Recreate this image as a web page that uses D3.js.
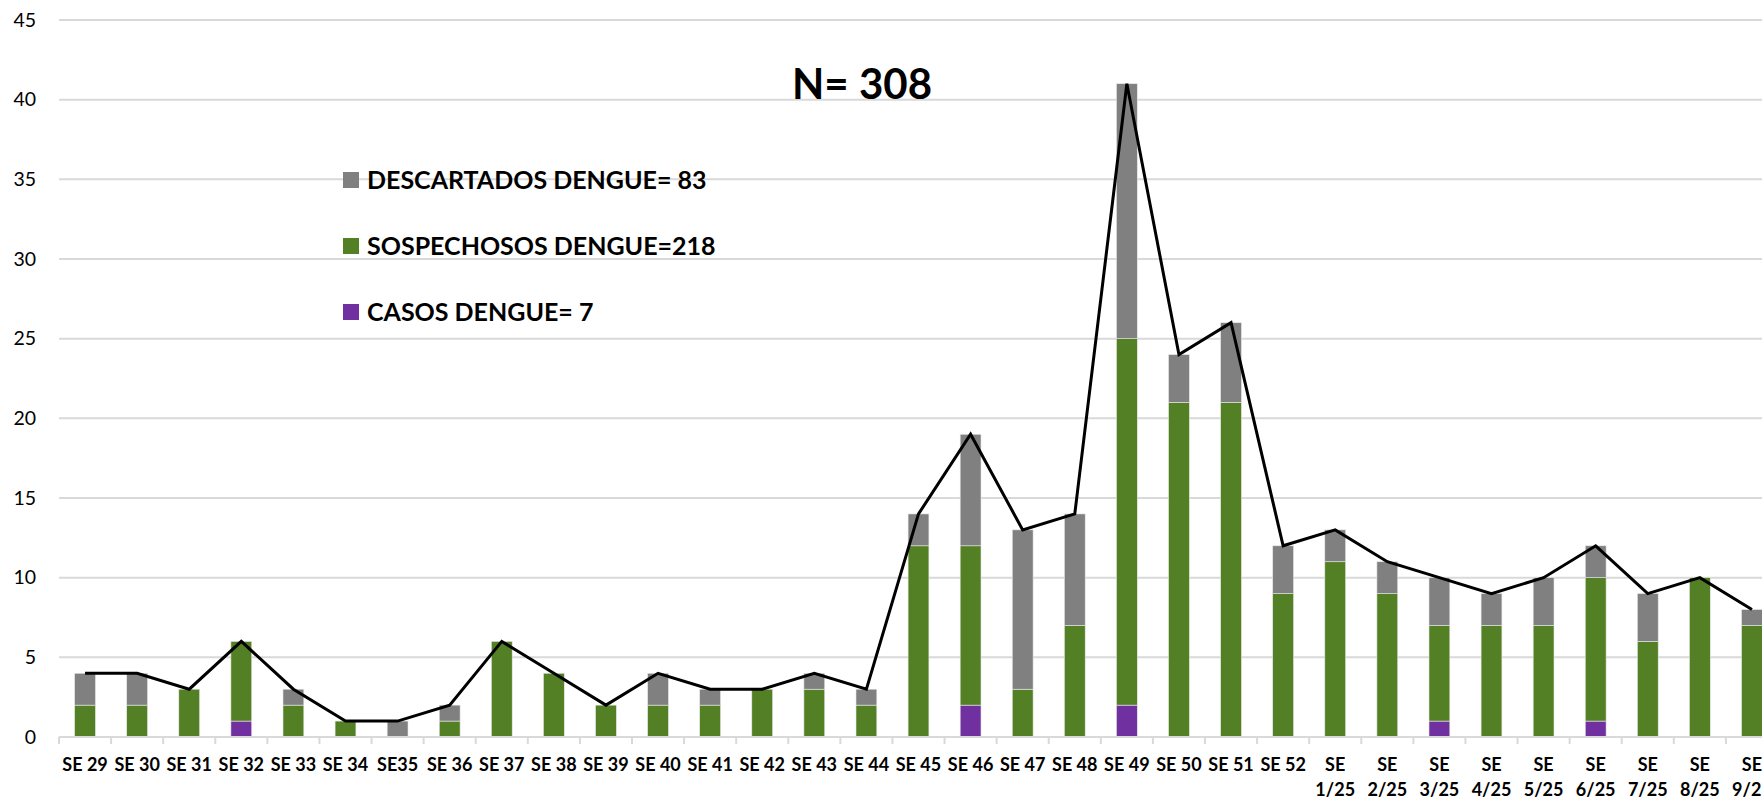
<!DOCTYPE html>
<html>
<head>
<meta charset="utf-8">
<script src="https://cdn.jsdelivr.net/npm/d3@7"></script>
<style>
body { margin: 0; background: #fff; }
text { font-family: Lato, "Liberation Sans", sans-serif; fill: #000; }
</style>
</head>
<body>
<svg id="chart" width="1762" height="800"></svg>
<script>
const semanas = ["SE 29","SE 30","SE 31","SE 32","SE 33","SE 34","SE35","SE 36","SE 37","SE 38","SE 39","SE 40","SE 41","SE 42","SE 43","SE 44","SE 45","SE 46","SE 47","SE 48","SE 49","SE 50","SE 51","SE 52","SE 1/25","SE 2/25","SE 3/25","SE 4/25","SE 5/25","SE 6/25","SE 7/25","SE 8/25","SE 9/25"];
const casos       = [0,0,0,1,0,0,0,0,0,0,0,0,0,0,0,0, 0, 2, 0,0, 2, 0, 0,0, 0,0,1,0,0,1,0, 0,0];
const sospechosos = [2,2,3,5,2,1,0,1,6,4,2,2,2,3,3,2,12,10, 3,7,23,21,21,9,11,9,6,7,7,9,6,10,7];
const descartados = [2,2,0,0,1,0,1,1,0,0,0,2,1,0,1,1, 2, 7,10,7,16, 3, 5,3, 2,2,3,2,3,2,3, 0,1];
const yTicks = [0,5,10,15,20,25,30,35,40,45];
const series = ["casos","sospechosos","descartados"];
const leyenda = [
  {key: "descartados", label: "DESCARTADOS DENGUE= 83"},
  {key: "sospechosos", label: "SOSPECHOSOS DENGUE=218"},
  {key: "casos", label: "CASOS DENGUE= 7"}
];
const colores = {casos: "#7030a0", sospechosos: "#538024", descartados: "#808080"};
const titulo = "N= 308";

const svg = d3.select("#chart");

const rows = semanas.map((s, i) => ({
  semana: s,
  casos: casos[i],
  sospechosos: sospechosos[i],
  descartados: descartados[i],
  total: casos[i] + sospechosos[i] + descartados[i]
}));

const left = 59, right = 1778;
const x = d3.scaleBand().domain(semanas).range([left, right]).paddingInner(0.6).paddingOuter(0.3);
const y = d3.scaleLinear().domain([0, 45]).range([737, 20]);

// grid
svg.append("g")
  .selectAll("line")
  .data(yTicks.filter(d => d > 0))
  .enter()
  .append("line")
  .attr("x1", left)
  .attr("x2", right)
  .attr("y1", d => y(d))
  .attr("y2", d => y(d))
  .attr("stroke", "#d9d9d9")
  .attr("stroke-width", 2);

// y labels
svg.append("g")
  .selectAll("text")
  .data(yTicks)
  .enter()
  .append("text")
  .attr("x", 36)
  .attr("y", d => y(d))
  .attr("dy", "0.35em")
  .attr("text-anchor", "end")
  .style("font-size", "19.5px")
  .text(d => d);

// stacked bars
const stacked = d3.stack().keys(series)(rows);
svg.append("g")
  .selectAll("g")
  .data(stacked)
  .enter()
  .append("g")
  .attr("fill", d => colores[d.key])
  .selectAll("rect")
  .data(d => d)
  .enter()
  .filter(d => d[1] > d[0])
  .append("rect")
  .attr("x", d => x(d.data.semana))
  .attr("width", x.bandwidth())
  .attr("y", d => y(d[1]))
  .attr("height", d => y(d[0]) - y(d[1]))
  .attr("stroke", "#e8e8e8")
  .attr("stroke-width", 0.6);

// x axis line & ticks
const step = x.step();
const bounds = d3.range(semanas.length + 1).map(i => left + i * step);
svg.append("line")
  .attr("x1", left).attr("x2", right)
  .attr("y1", y(0)).attr("y2", y(0))
  .attr("stroke", "#d9d9d9").attr("stroke-width", 2);
svg.append("g")
  .selectAll("line")
  .data(bounds)
  .enter()
  .append("line")
  .attr("x1", d => d).attr("x2", d => d)
  .attr("y1", y(0)).attr("y2", y(0) + 7)
  .attr("stroke", "#d9d9d9").attr("stroke-width", 2);

// x labels (wrap when wider than the category)
const xLabels = svg.append("g")
  .selectAll("text")
  .data(semanas)
  .enter()
  .append("text")
  .attr("x", d => x(d) + x.bandwidth() / 2)
  .attr("y", 771)
  .attr("text-anchor", "middle")
  .style("font-size", "18px")
  .style("font-weight", "bold")
  .text(d => d);

xLabels.each(function (d) {
  const t = d3.select(this);
  if (this.getComputedTextLength() > step - 2) {
    const parts = d.split(" ");
    t.text(null);
    parts.forEach((p, i) => {
      t.append("tspan")
        .attr("x", x(d) + x.bandwidth() / 2)
        .attr("dy", i === 0 ? 0 : 25)
        .text(p);
    });
  }
});

// total line
const line = d3.line()
  .x(d => x(d.semana) + x.bandwidth() / 2)
  .y(d => y(d.total));
svg.append("path")
  .datum(rows)
  .attr("d", line)
  .attr("fill", "none")
  .attr("stroke", "#000")
  .attr("stroke-width", 3)
  .attr("stroke-linejoin", "miter");

// title
svg.append("text")
  .attr("x", 792)
  .attr("y", 99)
  .style("font-size", "42px")
  .style("font-weight", "bold")
  .text(titulo);

// legend
const leg = svg.append("g")
  .selectAll("g")
  .data(leyenda)
  .enter()
  .append("g")
  .attr("transform", (d, i) => `translate(343, ${180 + i * 66})`);
leg.append("rect")
  .attr("x", 0).attr("y", -8)
  .attr("width", 16).attr("height", 16)
  .attr("fill", d => colores[d.key]);
leg.append("text")
  .attr("x", 24)
  .attr("dy", "0.36em")
  .style("font-size", "25px")
  .style("font-weight", "bold")
  .text(d => d.label);
</script>
</body>
</html>
